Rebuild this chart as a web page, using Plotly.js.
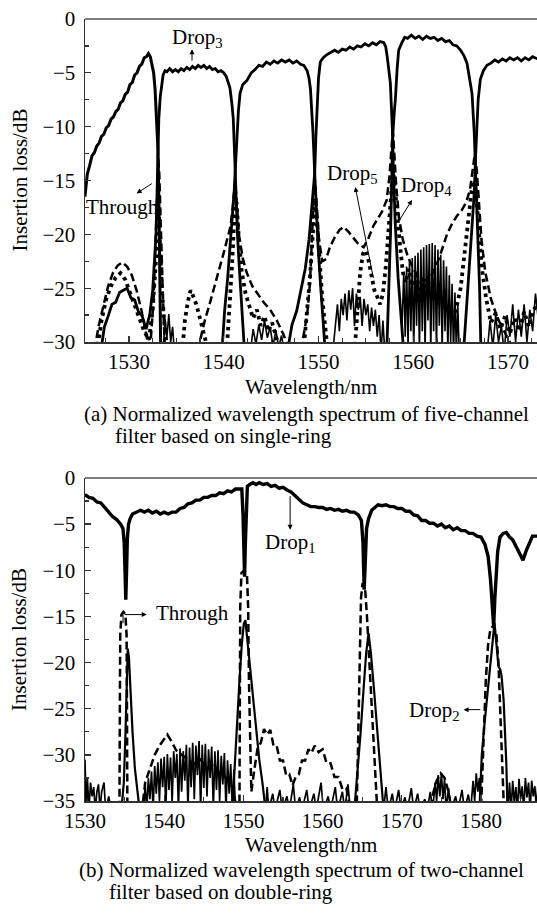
<!DOCTYPE html>
<html><head><meta charset="utf-8">
<script src="https://cdn.plot.ly/plotly-3.0.1.min.js"></script>
<style>html,body{margin:0;padding:0;background:#fff;overflow:hidden}#c{width:537px;height:916px}</style>
</head><body><div id="c"></div>
<script>
// ---------- (a) five-channel, single ring ----------
const a_tick = [1530,1540,1550,1560,1570];
const a_b1X = [1525.35,1525.6,1525.85,1526.1,1526.35,1526.6,1526.85,1527.1,1527.35,1527.6,1527.85,1528.1,1528.35,1528.6,1528.85,1529.1,1529.35,1529.6,1529.85,1530.1,1530.35,1530.6,1530.85,1531.1,1531.35,1531.6,1531.85,1532.05,1532.25,1532.45,1532.6,1532.75,1532.85,1532.95,1533.05,1533.15,1533.25,1533.35];
const a_b1Y = [-16.5,-14.4,-13.6,-12.7,-12.4,-11.8,-11.5,-10.9,-10.7,-10.1,-9.9,-9.3,-9.1,-8.6,-8.4,-7.8,-7.6,-7.0,-6.8,-6.1,-5.9,-5.2,-5.0,-4.4,-4.2,-3.6,-3.5,-3.2,-3.5,-4.2,-5.0,-6.5,-8.0,-10.2,-12.0,-16.5,-22.0,-31];
const a_b2X = [1527.0,1527.4,1527.8,1528.2,1528.6,1529.0,1529.4,1529.8,1530.2,1530.6,1531.0,1531.4,1531.8,1532.2,1532.5,1532.7,1532.85,1532.95,1533.05,1533.15,1533.3,1533.45,1533.6,1533.8,1534.0,1534.3,1534.6,1534.9,1535.2,1535.5,1535.8,1536.1,1536.4,1536.7,1537.0,1537.3,1537.6,1537.9,1538.2,1538.5,1538.8,1539.1,1539.4,1539.7,1540.0,1540.25,1540.45,1540.65,1540.85,1541.0,1541.1,1541.2,1541.3,1541.45,1541.6,1541.8,1542.0,1542.2];
const a_b2Y = [-31,-28.6,-27.6,-26.5,-26.3,-25.4,-25.2,-25.0,-25.9,-26.1,-27.2,-27.6,-28.8,-27.4,-25.2,-22.5,-20.0,-16.5,-12.0,-9.2,-7.2,-5.9,-5.2,-4.8,-4.9,-4.6,-4.9,-4.7,-4.9,-4.6,-4.8,-4.5,-4.7,-4.4,-4.6,-4.3,-4.5,-4.3,-4.6,-4.4,-4.7,-4.6,-4.9,-4.8,-5.0,-5.3,-5.8,-6.4,-7.8,-9.2,-11.5,-14.3,-17.0,-20.0,-22.5,-25.2,-27.8,-31];
const a_b3X = [1539.8,1540.1,1540.4,1540.7,1540.95,1541.1,1541.2,1541.3,1541.4,1541.55,1541.72,1542.0,1542.45,1542.9,1543.3,1543.7,1544.1,1544.5,1544.9,1545.3,1545.7,1546.1,1546.5,1546.9,1547.3,1547.7,1548.1,1548.45,1548.8,1549.0,1549.15,1549.3,1549.42,1549.6,1549.75,1549.95,1550.2,1550.45,1550.72];
const a_b3Y = [-31,-27.0,-24.2,-21.0,-18.0,-16.0,-14.3,-12.2,-10.6,-8.5,-6.9,-6.1,-5.7,-5.0,-4.7,-4.3,-4.4,-4.0,-4.2,-3.9,-4.1,-3.8,-4.0,-3.8,-4.1,-3.9,-4.2,-4.3,-4.8,-5.5,-6.5,-8.5,-10.6,-14.3,-17.5,-21.0,-24.5,-27.5,-31];
const a_b4X = [1546.7,1547.2,1547.7,1548.2,1548.6,1549.0,1549.3,1549.6,1549.72,1549.84,1550.0,1550.19,1550.5,1550.9,1551.3,1551.7,1552.1,1552.5,1552.9,1553.3,1553.7,1554.1,1554.5,1554.9,1555.3,1555.7,1556.1,1556.5,1556.9,1557.1,1557.25,1557.4,1557.58,1557.7,1557.8,1557.9,1558.1,1558.4,1558.7,1559.0];
const a_b4Y = [-31,-28.4,-27.1,-25.0,-23.2,-20.5,-17.6,-14.3,-11.0,-7.9,-5.5,-4.0,-3.6,-3.3,-3.1,-2.9,-3.1,-2.8,-2.9,-2.6,-2.8,-2.5,-2.6,-2.3,-2.5,-2.2,-2.4,-2.1,-2.2,-2.6,-3.5,-4.8,-5.9,-8.3,-10.3,-14.0,-19.0,-24.0,-28.0,-31];
const a_b5X = [1557.2,1557.4,1557.6,1557.75,1557.86,1558.0,1558.11,1558.3,1558.46,1558.8,1559.1,1559.4,1559.8,1560.2,1560.6,1561.0,1561.4,1561.8,1562.2,1562.6,1563.0,1563.4,1563.8,1564.2,1564.6,1565.0,1565.35,1565.67,1565.99,1566.2,1566.44,1566.55,1566.65,1566.8,1567.0,1567.15];
const a_b5Y = [-31,-26.0,-20.0,-14.0,-10.5,-8.6,-7.5,-4.6,-2.9,-2.2,-1.7,-1.8,-1.5,-1.8,-1.6,-1.9,-1.6,-1.8,-1.7,-2.0,-1.8,-2.1,-2.0,-2.4,-2.5,-2.9,-3.4,-4.1,-5.6,-6.9,-10.6,-13.3,-16.0,-20.0,-25.0,-31];
const a_b6X = [1565.3,1565.6,1565.9,1566.2,1566.45,1566.55,1566.7,1566.85,1567.08,1567.4,1567.78,1568.2,1568.6,1569.0,1569.4,1569.8,1570.2,1570.6,1571.0,1571.4,1571.8,1572.2,1572.6,1573.1];
const a_b6Y = [-31,-27.0,-23.5,-20.0,-16.0,-13.3,-10.5,-7.5,-5.6,-4.8,-4.3,-4.1,-3.8,-4.0,-3.7,-3.9,-3.6,-3.8,-3.6,-3.9,-3.6,-3.8,-3.5,-3.7];
const a_floorX = [1533.6,1533.8,1534.0,1534.2,1534.4,1534.6,1534.8,null,
 1542.8,1543.1,1543.4,1543.7,1544.0,1544.3,1544.6,1544.9,1545.2,1545.5,1545.8,1546.1,1546.4,null,
 1551.5,1551.8,1552.0,1552.2,1552.4,1552.6,1552.8,1553.0,1553.2,1553.4,1553.6,1553.8,1554.0,1554.2,1554.4,1554.6,1554.8,1555.0,1555.2,1555.4,1555.6,1555.8,1556.0,1556.2,1556.4,1556.6,1556.8,1557.0,null,
 1558.8,1559.0,1559.15,1559.3,1559.45,1559.6,1559.75,1559.9,1560.05,1560.2,1560.35,1560.5,1560.65,1560.8,1560.95,1561.1,1561.25,1561.4,1561.55,1561.7,1561.85,1562.0,1562.15,1562.3,1562.45,1562.6,1562.75,1562.9,1563.05,1563.2,1563.35,1563.5,1563.65,1563.8,1563.95,1564.1,1564.25,1564.4,1564.55,1564.7,1564.85,null,
 1567.8,1568.1,1568.4,1568.7,1569.0,1569.3,1569.6,1569.9,1570.2,1570.5,1570.8,1571.1,1571.4,1571.7,1572.0,1572.3,1572.6,1572.9,1573.2];
const a_floorY = [-31,-27.8,-29.6,-27.4,-30.0,-28.6,-31,null,
 -31,-28.8,-30.2,-28.4,-29.8,-28.0,-29.6,-28.6,-30.4,-28.9,-30.5,-29.4,-31,null,
 -31,-28,-26.5,-29,-26,-27.5,-25.5,-28,-25.2,-27,-25,-28.5,-25.5,-27,-25.8,-28.5,-26,-27.5,-26.5,-29,-26.8,-28.5,-27,-29.5,-27.5,-31,-28,-31,null,
 -29,-23.5,-29.5,-23.0,-30.5,-22.5,-29,-22.2,-31,-22.0,-28.5,-21.7,-31,-21.4,-29,-21.2,-31,-21.0,-28,-20.9,-31,-20.8,-29,-21.0,-31,-21.4,-28.5,-21.9,-31,-22.4,-29,-23.0,-31,-23.8,-30,-24.6,-31,-25.4,-31,-26.5,-31,null,
 -31,-28,-30.5,-27.5,-30,-28.5,-31,-27.5,-29.5,-26.5,-30,-27,-29.5,-26.5,-30,-27,-29,-25.5,-28];
const a_thrX = [1525.35,1526.3,1526.8,1527.3,1527.8,1528.3,1528.8,1529.3,1529.8,1530.3,1530.8,1531.3,1531.8,1532.2,1532.6,1532.85,1533.0,1533.1,1533.2,1533.35,1533.55,1533.8,1537.2,1537.6,1538.0,1538.5,1539.0,1539.5,1540.0,1540.4,1540.7,1540.95,1541.2,1541.4,1541.6,1542.0,1542.4,1543.0,1543.6,1544.2,1544.9,1545.6,1546.3,1547.0,1548.0,1548.4,1548.8,1549.1,1549.35,1549.6,1549.8,1550.05,1550.4,1550.8,1551.2,1551.7,1552.2,1552.66,1553.2,1553.7,1554.2,1554.77,1555.3,1555.8,1556.2,1556.7,1557.2,1557.5,1557.7,1557.85,1558.0,1558.2,1558.5,1558.9,1559.4,1560.0,1560.6,1561.2,1561.8,1562.4,1563.0,1563.56,1564.1,1564.6,1565.1,1565.6,1566.0,1566.3,1566.5,1566.7,1566.9,1567.2,1567.6,1568.2,1568.9,1569.6,1570.3,1571.0,1573.1];
const a_thrY = [-31,-31,-28.5,-26.5,-24.8,-23.6,-22.9,-22.6,-23.0,-23.8,-25.2,-27.0,-29.0,-31,-26,-19.5,-14.5,-13.0,-14.5,-19.8,-25,-31,-31,-29.5,-28.0,-26.5,-25.0,-23.3,-21.7,-20.3,-19.3,-17.5,-15.0,-17.5,-20.0,-22.2,-23.5,-24.8,-25.6,-26.3,-27.0,-28.0,-29.3,-31,-31,-29.5,-27.5,-24.5,-19.5,-14.8,-17.0,-20.5,-22.5,-22.3,-21.2,-20.3,-19.6,-19.3,-19.8,-20.4,-20.9,-21.2,-20.3,-19.2,-18.6,-17.9,-16.8,-14.5,-12.0,-10.5,-12.5,-15.5,-18.5,-20.5,-22.0,-23.2,-24.0,-24.3,-24.0,-23.0,-21.5,-20.0,-19.0,-18.3,-17.8,-17.0,-15.8,-13.8,-12.5,-14.0,-17.0,-20.5,-23.5,-26.0,-27.8,-29.0,-30.2,-31,-31];
const a_dotX = [1526.6,1527.1,1527.6,1528.1,1528.6,1529.1,1529.6,1530.1,1530.6,1531.1,1531.6,1532.1,1532.5,1532.8,1533.0,1533.15,1533.3,1533.5,1533.8,1534.1,null,
 1535.6,1535.9,1536.2,1536.5,1536.8,1537.1,1537.4,1537.7,1538.0,1538.4,null,
 1540.3,1540.6,1540.9,1541.15,1541.35,1541.6,1541.9,1542.3,1542.7,1543.1,1543.5,1543.9,1544.3,1544.7,1545.1,1545.5,1546.0,null,
 1548.4,1548.8,1549.1,1549.4,1549.65,1549.9,1550.15,1550.4,1550.7,1551.0,null,
 1553.8,1554.1,1554.4,1554.7,1555.0,1555.3,1555.6,1555.9,1556.2,1556.5,1556.8,1557.1,1557.4,1557.65,1557.85,1558.05,1558.3,1558.6,1558.9,1559.2,1559.5,1559.9,1560.3,1560.7,1561.1,1561.5,1562.0,1562.5,1563.0,1563.5,1564.0,1564.5,1565.0,1565.4,1565.8,1566.15,1566.45,1566.75,1567.0,1567.3,1567.7,1568.2,1568.7,1569.2,1569.7,1570.2,1570.7,1571.2,1571.7,1572.2,1572.7,1573.1];
const a_dotY = [-31,-28.0,-26.0,-24.8,-24.0,-23.6,-24.2,-25.3,-26.6,-27.8,-29.0,-29.8,-27.0,-23.0,-19.5,-18.2,-21.5,-25.5,-29.0,-31,null,
 -31,-28.0,-26.3,-25.2,-25.8,-26.5,-27.5,-28.5,-29.3,-31,null,
 -31,-27,-22.5,-17.8,-17.0,-20.5,-23.5,-25.5,-26.8,-27.8,-27.0,-28.5,-27.6,-29.0,-28.2,-29.5,-31,null,
 -31,-27.5,-24.0,-20.0,-17.0,-19.5,-23.0,-26.0,-28.5,-31,null,
 -31,-27.0,-23.5,-21.8,-21.5,-22.5,-24.0,-25.2,-25.8,-26.5,-25.5,-23.0,-19.5,-16.0,-14.0,-15.5,-18.5,-21.0,-23.5,-24.5,-23.2,-24.8,-23.8,-25.3,-24.5,-25.8,-25.0,-26.5,-25.8,-27.2,-28.0,-27.0,-25.0,-22.0,-19.0,-16.0,-15.0,-17.5,-20.5,-23.5,-26.0,-28.2,-27.3,-28.8,-27.6,-29.2,-27.8,-29.0,-27.2,-28.6,-27.0,-26.5];

// ---------- (b) two-channel, double ring ----------
const b_tick = [1530,1540,1550,1560,1570,1580];
const b_d1X = [1530.0,1530.5,1531.0,1531.5,1532.0,1532.5,1533.0,1533.5,1534.0,1534.5,1534.8,1534.95,1535.05,1535.15,1535.25,1535.35,1535.5,1535.7,1536.0,1536.5,1537.0,1537.5,1538.0,1538.5,1539.0,1539.5,1540.0,1540.5,1541.0,1541.5,1542.0,1542.5,1543.0,1543.5,1544.0,1544.5,1545.0,1545.5,1546.0,1546.5,1547.0,1547.5,1548.0,1548.5,1549.0,1549.5,1549.8,1549.95,1550.05,1550.15,1550.25,1550.35,1550.5,1550.8,1551.2,1551.6,1552.0,1552.5,1553.0,1553.5,1554.0,1554.5,1555.0,1555.5,1556.0,1556.5,1557.0,1557.5,1558.0,1558.5,1559.0,1559.5,1560.0,1560.5,1561.0,1561.5,1562.0,1562.5,1563.0,1563.5,1564.0,1564.5,1564.9,1565.1,1565.25,1565.4,1565.55,1565.8,1566.2,1566.6,1567.0,1567.5,1568.0,1568.5,1569.0,1569.5,1570.0,1570.5,1571.0,1571.5,1572.0,1572.5,1573.0,1573.5,1574.0,1574.5,1575.0,1575.5,1576.0,1576.5,1577.0,1577.5,1578.0,1578.5,1579.0,1579.5,1580.0,1580.5,1580.9,1581.2,1581.45,1581.6,1581.75,1581.9,1582.1,1582.4,1582.8,1583.2,1583.6,1584.0,1584.5,1584.9,1585.3,1585.7,1586.1,1586.5,1587.1];
const b_d1Y = [-1.8,-2.1,-2.2,-2.6,-2.7,-3.2,-3.6,-4.2,-4.5,-5.0,-5.5,-7.0,-10.0,-13.2,-10.0,-6.5,-5.0,-4.4,-3.9,-3.7,-3.5,-3.7,-3.5,-3.8,-3.6,-3.9,-3.7,-3.9,-3.7,-3.7,-3.3,-3.2,-2.8,-2.7,-2.4,-2.4,-2.1,-2.1,-1.9,-1.9,-1.6,-1.7,-1.4,-1.5,-1.2,-1.2,-1.2,-4.0,-8.0,-10.7,-7.0,-3.0,-0.9,-0.7,-0.5,-0.7,-0.5,-0.7,-0.6,-0.9,-0.8,-1.1,-1.0,-1.3,-1.5,-1.9,-2.3,-2.7,-2.9,-3.1,-3.1,-3.2,-3.2,-3.4,-3.3,-3.5,-3.4,-3.6,-3.5,-3.7,-3.7,-4.0,-4.6,-7.0,-12.1,-8.0,-5.5,-4.4,-3.5,-3.2,-2.9,-3.0,-2.9,-3.1,-3.1,-3.3,-3.3,-3.6,-3.6,-4.0,-4.1,-4.6,-4.6,-4.9,-4.9,-5.2,-5.0,-5.4,-5.2,-5.6,-5.4,-5.7,-5.7,-6.0,-6.0,-6.3,-6.4,-7.2,-8.5,-11.0,-14.0,-16.1,-13.0,-10.0,-8.0,-6.4,-6.0,-5.9,-6.4,-6.7,-7.5,-8.1,-8.9,-7.9,-7.2,-6.3,-6.3];
const b_thrX = [1530.0,1534.35,1534.4,1534.45,1534.6,1534.85,1535.1,1535.25,1535.3,1535.35,1537.2,1537.6,1538.2,1538.8,1539.4,1540.0,1540.4,1540.9,1541.5,1542.2,1543.0,1543.8,1544.6,1545.4,1546.2,1547.0,1547.8,1548.6,1549.2,1549.5,1549.55,1549.6,1549.75,1550.1,1550.45,1550.6,1550.7,1550.85,1551.0,1551.4,1551.8,1552.2,1552.6,1553.0,1553.4,1553.8,1554.2,1554.6,1555.0,1555.4,1555.8,1556.2,1556.6,1557.0,1557.4,1557.8,1558.2,1558.6,1559.0,1559.5,1560.0,1560.5,1561.0,1561.5,1562.0,1562.5,1563.0,1563.5,1564.3,1564.5,1564.7,1564.85,1565.05,1565.35,1565.6,1565.9,1566.3,1566.9,1573.6,1574.0,1574.4,1574.9,1575.4,1575.9,1576.3,1580.0,1580.3,1580.6,1580.9,1581.2,1581.6,1581.95,1582.2,1582.45,1582.7,1582.9,1587.1];
const b_thrY = [-36,-36,-25,-17,-14.8,-14.5,-14.8,-17,-25,-36,-36,-33,-31.5,-30,-29,-28.2,-27.8,-28.5,-29.5,-30,-30.5,-31,-30.5,-31.5,-31,-32,-32.5,-33.5,-36,-36,-25,-14,-10.3,-10.0,-10.5,-14,-22,-30,-34,-31.5,-29.2,-28.7,-27.2,-27.8,-27.3,-29.0,-29.0,-30.6,-30.6,-32.2,-32.1,-33.3,-32.4,-32.1,-30.6,-30.6,-29.4,-29.8,-29.0,-29.7,-29.4,-30.9,-30.9,-32.4,-32.4,-33.7,-33.6,-36,-36,-28,-19,-13,-11.4,-11.8,-15,-20,-27,-36,-36,-34,-32.8,-32.0,-32.5,-34,-36,-36,-29,-22,-18,-16.3,-16.0,-17,-20,-25,-30,-36,-36];
const b_d2X = [1534.6,1534.9,1535.1,1535.3,1535.4,1535.55,1535.75,1536.0,1536.3,1536.6,1536.9,null,
 1548.6,1548.9,1549.2,1549.5,1549.8,1550.05,1550.25,1550.5,1550.8,1551.2,1551.6,1552.0,1552.4,1552.8,null,
 1564.0,1564.4,1564.8,1565.2,1565.5,1565.8,1566.1,1566.5,1566.9,1567.3,1567.7,null,
 1579.8,1580.1,1580.4,1580.76,1581.1,1581.4,1581.7,1581.95,1582.2,1582.45,1582.6,1582.85,1583.07,1583.2,1583.35];
const b_d2Y = [-36,-33,-28,-21,-18.5,-19.5,-23.5,-27.5,-31.5,-33.5,-36,null,
 -36,-31,-27,-22,-18,-15.8,-15.4,-17.5,-20.5,-24,-27.5,-30.5,-33,-36,null,
 -36,-32,-27.6,-22.5,-19,-16.8,-19,-23,-27.6,-31.5,-36,null,
 -36,-30,-27,-24,-21,-18.6,-15.7,-18,-20.4,-20.8,-21.5,-24,-27.6,-31,-36];
const b_floorX = [1530.0,1530.15,1530.3,1530.5,1530.7,1530.9,1531.1,1531.3,1531.5,1531.7,1531.9,1532.1,1532.4,1532.6,1533.0,1533.3,null,
 1537.4,1537.6,1537.8,1538.0,1538.2,1538.4,1538.6,1538.8,1539.0,1539.2,1539.4,1539.6,1539.8,1540.0,1540.2,1540.4,1540.6,1540.8,1541.0,1541.2,1541.4,1541.6,1541.8,1542.0,1542.2,1542.4,1542.6,1542.8,1543.0,1543.2,1543.4,1543.6,1543.8,1544.0,1544.2,1544.4,1544.6,1544.8,1545.0,1545.2,1545.4,1545.6,1545.8,1546.0,1546.2,1546.4,1546.6,1546.8,1547.0,1547.2,1547.4,1547.6,1547.8,1548.0,1548.2,1548.4,1548.6,1548.8,1549.0,null,
 1552.8,1553.0,1553.2,1553.7,1554.0,1554.6,1554.9,1555.5,1555.8,1556.3,1556.6,1557.1,1557.4,1558.0,1558.3,1558.9,1559.2,1559.8,1560.1,1560.7,1561.0,1561.6,1561.9,1562.5,1562.8,1563.2,1563.5,null,
 1567.7,1568.0,1568.3,1568.8,1569.1,1569.6,1569.9,1570.4,1570.7,1571.2,1571.5,1572.0,1572.3,1572.9,1573.2,1573.6,1573.9,1574.2,1574.4,1574.6,1574.8,1575.0,1575.2,1575.4,1575.6,1575.9,1576.2,1576.8,1577.1,1577.6,1577.9,1578.4,1578.7,1579.0,1579.2,1579.4,1579.6,1579.8,1580.0,null,
 1583.4,1583.6,1583.8,1584.0,1584.2,1584.4,1584.6,1584.8,1585.0,1585.2,1585.4,1585.6,1585.8,1586.0,1586.2,1586.4,1586.6,1586.8,1587.0,1587.2];
const b_floorY = [-30.5,-36,-32.5,-36,-33,-34.5,-33.5,-36,-34,-33.2,-36,-34,-33,-36,-34.5,-36,null,
 -36,-33.2,-36,-32.5,-34.8,-31.8,-36,-31.2,-34.2,-30.8,-35,-30.4,-33.5,-30.2,-36,-29.9,-33.8,-30.3,-35.2,-29.6,-32.5,-29.9,-36,-29.3,-34,-29.6,-32.8,-28.9,-36,-29.2,-33.5,-28.7,-34.8,-29.0,-32.2,-28.5,-36,-28.9,-33.6,-28.8,-34.5,-29.4,-32.5,-29.1,-36,-29.6,-33.8,-29.5,-35.0,-30.1,-33.2,-29.8,-36,-30.6,-34.2,-31.0,-36,-31.6,-36,null,
 -36,-33.5,-36,-34.2,-36,-33.8,-36,-34.5,-36,-33.2,-36,-34.6,-36,-33.8,-36,-34.2,-36,-33.0,-36,-34.5,-36,-33.5,-36,-34,-36,-33.2,-36,null,
 -36,-33.5,-36,-34.2,-36,-33.8,-36,-34.6,-36,-33.6,-36,-34.2,-36,-34.8,-36,-34.0,-36,-33.0,-35.0,-32.2,-34.5,-32.0,-34.8,-32.6,-36,-33.6,-36,-34.5,-36,-33.8,-36,-34.3,-36,-32.8,-35.0,-32.0,-34.0,-32.5,-36,null,
 -36,-33.0,-36,-32.8,-35.2,-33.5,-36,-32.6,-34.8,-33.4,-36,-32.5,-34.6,-33.0,-36,-32.8,-34.5,-33.4,-36,-33];

// ---------- labels ----------
const capA = ['(a) Normalized wavelength spectrum of five-channel','filter based on single-ring'];
const capB = ['(b) Normalized wavelength spectrum of two-channel','filter based on double-ring'];
const xTitle = 'Wavelength/nm';
const yTitle = 'Insertion loss/dB';

const FONT = 'Liberation Serif';
const K = '#000';
function ln(x, y, xa, ya, w, dash) {
  return {type:'scatter', mode:'lines', x:x, y:y, xaxis:xa, yaxis:ya, connectgaps:false,
    line:{color:K, width:w, dash:dash||'solid'}, hoverinfo:'skip', showlegend:false};
}
const traces = [
  ln(a_thrX, a_thrY, 'x', 'y', 2.5, '8px,4px'),
  ln(a_dotX, a_dotY, 'x', 'y', 3.8, '3.5px,4px'),
  ln(a_floorX, a_floorY, 'x', 'y', 1.6),
  ln(a_b1X, a_b1Y, 'x', 'y', 3.0),
  ln(a_b2X, a_b2Y, 'x', 'y', 2.8),
  ln(a_b3X, a_b3Y, 'x', 'y', 2.8),
  ln(a_b4X, a_b4Y, 'x', 'y', 2.8),
  ln(a_b5X, a_b5Y, 'x', 'y', 2.8),
  ln(a_b6X, a_b6Y, 'x', 'y', 2.8),
  ln(b_thrX, b_thrY, 'x2', 'y2', 2.5, '8px,4px'),
  ln(b_floorX, b_floorY, 'x2', 'y2', 1.7),
  ln(b_d2X, b_d2Y, 'x2', 'y2', 2.2),
  ln(b_d1X, b_d1Y, 'x2', 'y2', 3.4)
];

const axBase = {showline:true, linecolor:'#333', linewidth:1.5, ticks:'inside', ticklen:6, tickwidth:1.3,
  tickcolor:'#333', showgrid:false, zeroline:false, tickfont:{family:FONT, size:21, color:K}};
function txt(t, x, y, xr, yr, extra) {
  return Object.assign({text:t, x:x, y:y, xref:xr, yref:yr, showarrow:false, xanchor:'center', yanchor:'middle',
    font:{family:FONT, size:21, color:K}}, extra||{});
}
function arr(x, y, ax, ay, xr, yr, head) {
  return {text:'', x:x, y:y, ax:ax, ay:ay, xref:xr, yref:yr, axref:xr, ayref:yr, showarrow:true,
    arrowhead:head===undefined?2:head, arrowsize:1, arrowwidth:1, arrowcolor:K, standoff:0, startstandoff:0};
}
const W = 537, H = 916;
const px = v => v / W, py = v => 1 - v / H;
const annotations = [
  txt('Drop<sub>3</sub>', 1537.2, -1.8, 'x', 'y'),
  arr(1536.65, -2.8, 1536.65, -4.0, 'x', 'y'),
  txt('Through', 1529.3, -17.5, 'x', 'y'),
  arr(1530.8, -16.2, 1532.57, -15.2, 'x', 'y'),
  txt('Drop<sub>5</sub>', 1553.64, -14.4, 'x', 'y'),
  arr(1553.88, -15.6, 1555.82, -24.2, 'x', 'y'),
  txt('Drop<sub>4</sub>', 1561.45, -15.5, 'x', 'y'),
  arr(1559.87, -16.8, 1558.46, -18.8, 'x', 'y'),
  txt('Through', 1543.6, -14.6, 'x2', 'y2'),
  arr(1537.8, -14.8, 1534.8, -14.8, 'x2', 'y2'),
  arr(1534.8, -14.8, 1534.8, -15.9, 'x2', 'y2', 0),
  txt('Drop<sub>1</sub>', 1556.0, -7.0, 'x2', 'y2'),
  arr(1555.9, -5.6, 1555.9, -1.8, 'x2', 'y2'),
  txt('Drop<sub>2</sub>', 1574.07, -25.3, 'x2', 'y2'),
  arr(1577.8, -25.1, 1580.1, -25.1, 'x2', 'y2'),
  txt(yTitle, px(19), py(180.5), 'paper', 'paper', {textangle:-90}),
  txt(yTitle, px(19), py(640), 'paper', 'paper', {textangle:-90}),
  txt(xTitle, px(311), py(387), 'paper', 'paper'),
  txt(xTitle, px(311), py(845), 'paper', 'paper'),
  txt(capA[0], px(82), py(414), 'paper', 'paper', {xanchor:'left'}),
  txt(capA[1], px(113), py(436), 'paper', 'paper', {xanchor:'left'}),
  txt(capB[0], px(77), py(870), 'paper', 'paper', {xanchor:'left'}),
  txt(capB[1], px(107), py(892), 'paper', 'paper', {xanchor:'left'})
];
const layout = {
  width:W, height:H, margin:{l:0, r:0, t:0, b:0}, paper_bgcolor:'#fff', plot_bgcolor:'#fff',
  showlegend:false, font:{family:FONT, size:21, color:K},
  xaxis:Object.assign({}, axBase, {domain:[px(85), 1], range:[1525.356, 1573.06], anchor:'y',
    tickvals:a_tick, ticklabelstandoff:0,
    minor:{ticks:'inside', ticklen:4, tickwidth:1.2, tickcolor:'#333', dtick:2.5, tick0:1530}}),
  yaxis:Object.assign({}, axBase, {domain:[py(342), py(19)], range:[-30, 0], anchor:'x',
    tick0:0, dtick:5, ticklabelstandoff:4,
    minor:{ticks:'inside', ticklen:4, tickwidth:1.2, tickcolor:'#333', dtick:2.5, tick0:0}}),
  xaxis2:Object.assign({}, axBase, {domain:[px(85), 1], range:[1530, 1587.07], anchor:'y2',
    tickvals:b_tick, ticklabelstandoff:0,
    minor:{ticks:'inside', ticklen:4, tickwidth:1.2, tickcolor:'#333', dtick:5, tick0:1530}}),
  yaxis2:Object.assign({}, axBase, {domain:[py(801), py(478)], range:[-35, 0], anchor:'x2',
    tick0:0, dtick:5, ticklabelstandoff:4,
    minor:{ticks:'inside', ticklen:4, tickwidth:1.2, tickcolor:'#333', dtick:2.5, tick0:0}}),
  shapes:[
    {type:'line', xref:'x domain', yref:'y domain', x0:0, x1:1, y0:1, y1:1, line:{color:'#555', width:1.5}},
    {type:'line', xref:'x2 domain', yref:'y2 domain', x0:0, x1:1, y0:1, y1:1, line:{color:'#555', width:1.5}}
  ],
  annotations:annotations
};
Plotly.newPlot('c', traces, layout, {staticPlot:true, displayModeBar:false});
</script></body></html>
